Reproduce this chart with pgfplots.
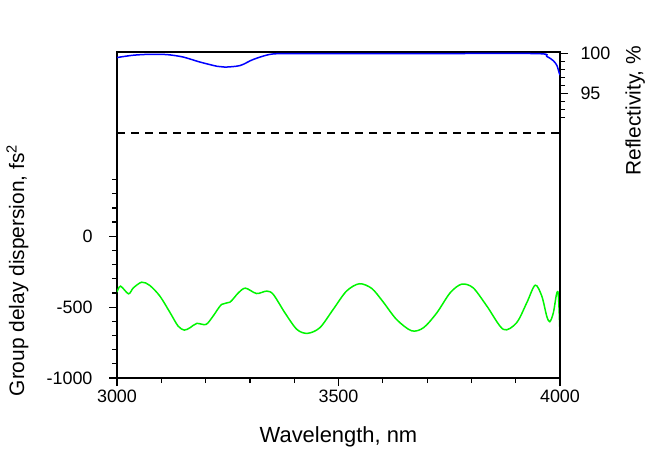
\documentclass[border=0pt]{standalone}
\usepackage{fontspec}
\setmainfont{Liberation Sans}
\usepackage{pgfplots}
\pgfplotsset{compat=1.18}
\definecolor{gdd}{RGB}{0,245,0}
\begin{document}
\begin{tikzpicture}
\useasboundingbox (-117bp,-75bp) rectangle (533bp,378bp);
\pgfplotsset{
  common/.style={
    at={(0,0)}, anchor=south west, scale only axis,
    width=443bp, height=326bp,
    xmin=3000, xmax=4000,
    tick align=outside,
    major tick length=8bp, minor tick length=5bp,
    every tick/.style={black, line width=1.2bp},
    axis line style={line width=1.4bp},
    ticklabel style={font=\fontsize{18}{21}\selectfont},
    label style={font=\fontsize{21}{24}\selectfont},
    /pgf/number format/assume math mode=true,
    /pgf/number format/1000 sep={},
  }
}
\begin{axis}[common,
  ymin=-1000, ymax=1300,
  xtick={3000,3500,4000},
  minor xtick={3100,3200,3300,3400,3600,3700,3800,3900},
  ytick={-1000,-500,0},
  minor ytick={-900,-800,-700,-600,-400,-300,-200,-100,100,200,300,400},
  xtick pos=left, ytick pos=left,
  yticklabel style={xshift=-13bp},
  xlabel={Wavelength, nm},
  xlabel style={at={(axis description cs:0.5,-0.181)}, anchor=center, font=\fontsize{22}{25}\selectfont},
  ylabel={Group delay dispersion, fs\textsuperscript{2}},
  ylabel style={at={(axis description cs:-0.225,0.33)}, anchor=center},
]
\addplot[gdd, line width=1.5bp, smooth, tension=0.5] coordinates {
(3000,-394) (3008,-352) (3026,-406) (3037,-364) (3056,-324) (3074,-347)
(3097,-423) (3120,-540) (3138,-634) (3152,-662) (3165,-645) (3180,-615)
(3201,-622) (3217,-563) (3236,-481) (3255,-465) (3274,-399) (3290,-366)
(3315,-404) (3338,-387) (3353,-411) (3379,-540) (3406,-657) (3430,-685)
(3458,-645) (3488,-516) (3518,-387) (3547,-335) (3575,-368) (3600,-460)
(3631,-587) (3665,-667) (3692,-645) (3722,-540) (3752,-399) (3778,-338)
(3804,-364) (3835,-493) (3872,-657) (3902,-610) (3925,-469) (3944,-345)
(3959,-423) (3970,-563) (3977,-603) (3985,-540) (3992,-411) (3996,-404)
(3999,-600) (4000,-705)
};
\end{axis}
\begin{axis}[common,
  ymin=59.2, ymax=100.2,
  axis x line=none, axis y line*=right,
  ytick={95,100},
  minor ytick={92,93,94,96,97,98,99},
  yticklabel style={xshift=9bp},
  ylabel={Reflectivity, \%},
  ylabel style={at={(axis description cs:1.17,0.82)}, anchor=center},
]
\addplot[black, line width=1.4bp, dash pattern=on 8bp off 6bp] coordinates {(3000,90) (4000,90)};
\addplot[blue, line width=1.5bp, smooth, tension=0.5] coordinates {
(3000,99.5) (3036,99.79) (3074,99.91) (3113,99.87) (3149,99.57) (3187,98.94)
(3226,98.4) (3244,98.3) (3278,98.5) (3307,99.25) (3345,99.9) (3384,100)
(3500,100) (3700,100) (3947,100) (3970,99.65) (3985,99.1) (3993,98.5)
(3998,97.6) (4000,97.3)
};
\end{axis}
\end{tikzpicture}
\end{document}
